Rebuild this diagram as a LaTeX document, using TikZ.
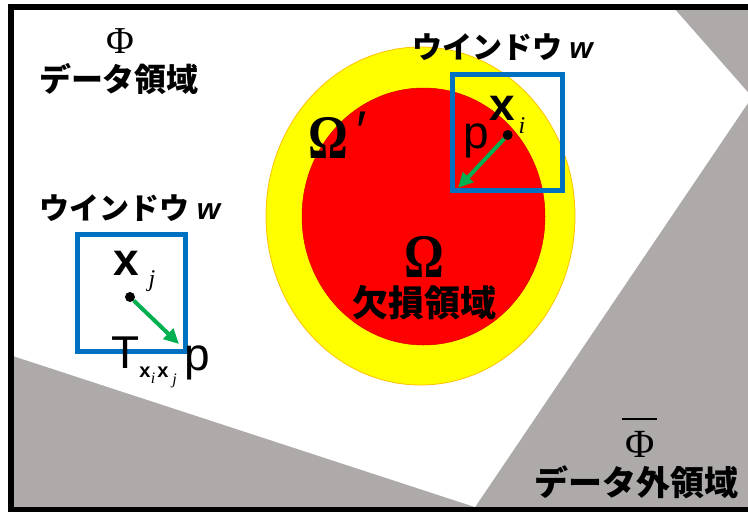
\documentclass[tikz,border=0pt]{standalone}
\usepackage{fontspec}
\setmainfont{Liberation Serif}
\newfontfamily\arfont{Liberation Sans}
\newfontfamily\jpfont{Noto Sans CJK JP}
\usetikzlibrary{arrows.meta}
\definecolor{grayreg}{HTML}{AEAAAA}
\definecolor{winblue}{HTML}{0070C0}
\definecolor{arrgreen}{HTML}{00B050}
\definecolor{yelfill}{HTML}{FFFF00}
\definecolor{redfill}{HTML}{FF0000}
\definecolor{yelline}{HTML}{FFC000}
\begin{document}
\begin{tikzpicture}[x=1pt,y=-1pt,
  winbox/.style={draw=winblue,line width=5pt,inner sep=0pt},
  dotnode/.style={circle,fill=black,inner sep=0pt,minimum size=10pt},
  garrow/.style={draw=arrgreen,line width=4pt,-{Triangle[length=15pt,width=14pt]}},
  jplab/.style={font=\jpfont\bfseries\fontsize{#1}{#1}\selectfont,inner sep=0pt},
  boldx/.style={font=\arfont\bfseries\fontsize{#1}{#1}\selectfont,inner sep=0pt,anchor=base},
  regsans/.style={font=\arfont\fontsize{46}{46}\selectfont,inner sep=0pt,anchor=base},
  itsub/.style={font=\itshape\fontsize{#1}{#1}\selectfont,inner sep=0pt,anchor=base},
  serifbig/.style={font=\fontsize{#1}{#1}\selectfont,inner sep=0pt}
]
\useasboundingbox (0,0) rectangle (748,512);
\clip (0,0) rectangle (748,512);
% regions
\fill[grayreg] (10,6) rectangle (760,512);
\fill[white] (10,6) -- (672,6) -- (752,97) -- (475,507) -- (10,355) -- cycle;
\fill[yelfill,draw=yelline,line width=0.8pt] (420.5,216) ellipse [x radius=154.5, y radius=169];
\fill[redfill,draw=red!85!black,line width=0.5pt] (423.5,216.5) ellipse [x radius=121.5, y radius=128.5];
% windows
\node[winbox,minimum width=110pt,minimum height=116pt] (win1) at (507.5,132.5) {};
\node[winbox,minimum width=108pt,minimum height=117pt] (win2) at (131.5,293) {};
% points and arrows
\node[dotnode] (xi) at (507.7,135) {};
\node[dotnode] (xj) at (130,297) {};
\coordinate (pi) at (458,188);
\coordinate (pj) at (179,344);
\draw[garrow] (xi) -- (pi);
\draw[garrow] (xj) -- (pj);
% labels
\node[serifbig=38] (phi) at (120,41) {Φ};
\node[jplab=32] (datareg) at (119,79) {データ領域};
\node[jplab=30] (win1lab) at (502.5,47) {ウインドウ {\arfont\bfseries\itshape w}};
\node[jplab=30] (win2lab) at (130,208) {ウインドウ {\arfont\bfseries\itshape w}};
\node[boldx=46] (xilab) at (502.5,120) {x};
\node[itsub=24] (ilab) at (522,133) {i};
\node[regsans] (plab) at (476,148) {p};
\node[boldx=46] (xjlab) at (126.5,275) {x};
\node[itsub=24] (jlab) at (152,286) {j};
\node[regsans,anchor=base west] (Tlab) at (111,368) {T\kern0pt\raisebox{-9pt}{\bfseries\fontsize{20}{20}\selectfont x}\kern0.5pt\raisebox{-15pt}{\rmfamily\itshape\fontsize{16}{16}\selectfont i}\kern2pt\raisebox{-9pt}{\bfseries\fontsize{20}{20}\selectfont x}\kern4pt\raisebox{-16pt}{\rmfamily\itshape\fontsize{16}{16}\selectfont j}\kern8pt\raisebox{-2pt}{p}};
\node[serifbig=62,anchor=base] (omp) at (328.5,158) {\bfseries\scalebox{0.8}[1]{Ω}};
\node[font=\arfont\fontsize{56}{56}\selectfont,inner sep=0pt] (prime) at (362,131) {′};
\node[serifbig=62,anchor=base] (om) at (424,277) {\bfseries\scalebox{0.8}[1]{Ω}};
\node[jplab=36] (kesson) at (424.5,302.5) {欠損領域};
\node[serifbig=40,anchor=base,text depth=0pt] (phibar) at (640,457) {Φ};
\draw[line width=2pt] (622,419) -- (657,419);
\node[jplab=34,anchor=base,text height=0.8em,text depth=0.1em] (outreg) at (636.5,495) {データ外領域};
% frame
\draw[line width=5.5pt] (760,6.75) -- (10.75,6.75) -- (10.75,509.5) -- (760,509.5);
\end{tikzpicture}
\end{document}
